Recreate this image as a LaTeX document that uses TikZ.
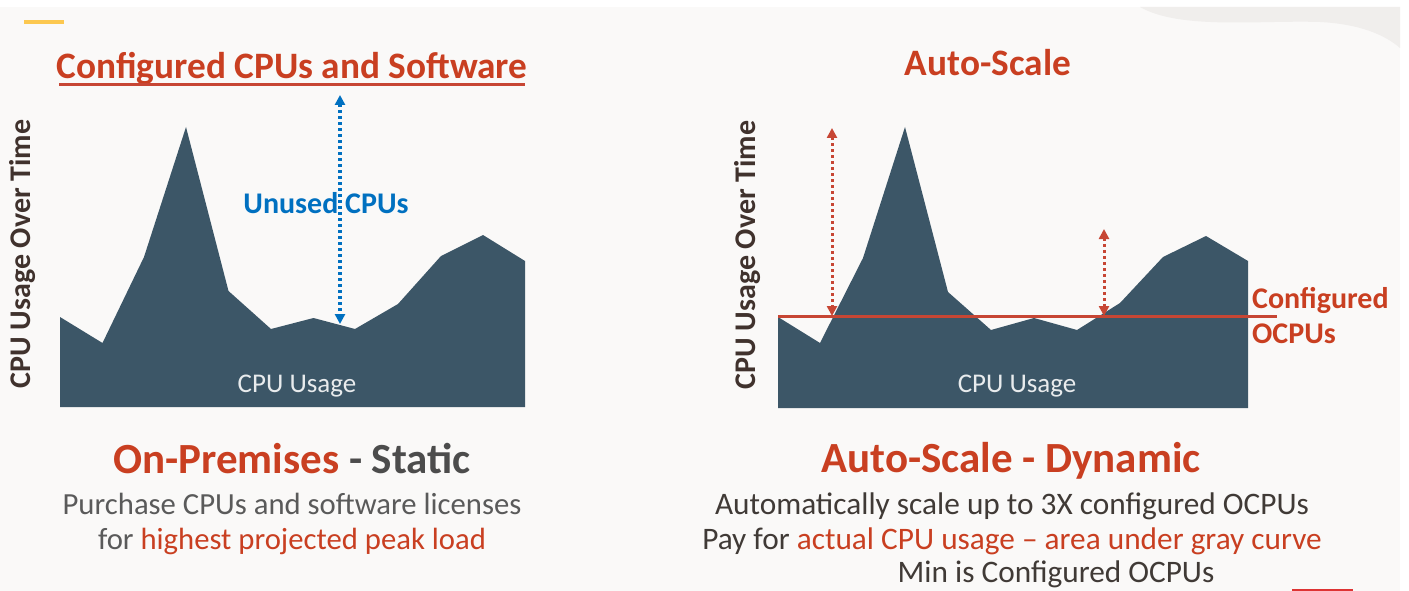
\documentclass[tikz,border=0pt]{standalone}
\usepackage{fontspec}
\setmainfont{Carlito}
\usetikzlibrary{arrows.meta}
\definecolor{bg}{HTML}{FAF9F8}
\definecolor{ored}{RGB}{201,63,33}
\definecolor{oline}{RGB}{199,70,52}
\definecolor{chart}{RGB}{60,86,103}
\definecolor{ublue}{RGB}{0,112,192}
\definecolor{txtgray}{RGB}{90,90,90}
\definecolor{txtdark}{RGB}{64,58,54}
\definecolor{axisbrown}{RGB}{64,50,45}
\definecolor{yel}{RGB}{252,200,80}
\definecolor{barred}{RGB}{222,52,52}
\definecolor{texture}{RGB}{240,238,236}
\tikzset{
  areafill/.style={fill=chart},
  bluearrow/.style={draw=ublue,line width=3.2pt,dash pattern=on 3pt off 3pt,
    {Triangle[length=10pt,width=10pt]}-{Triangle[length=10pt,width=10pt]}},
  redarrow/.style={draw=oline,line width=3pt,dash pattern=on 3pt off 3pt,
    {Triangle[length=10pt,width=10pt]}-{Triangle[length=10pt,width=10pt]}},
  axislabel/.style={font=\fontsize{30}{30}\selectfont\bfseries,text=axisbrown,rotate=90,inner sep=0pt},
  usagelabel/.style={font=\fontsize{27}{27}\selectfont,text=white!88!chart,anchor=base,inner sep=0pt},
  plain/.style={anchor=base,inner sep=0pt},
}
\begin{document}
\begin{tikzpicture}[x=1pt,y=-1pt]
\useasboundingbox (0,0) rectangle (1409,591);
% background
\fill[white] (0,0) rectangle (1409,591);
\fill[bg] (0,7) rectangle (1400,591);
\fill[texture] (1140,7) .. controls (1180,30) and (1260,20) .. (1320,22)
  .. controls (1360,24) and (1385,35) .. (1400,48) -- (1400,7) -- cycle;
% yellow accent
\draw[yel,line width=4pt] (24,22) -- (64,22);

% ---------- left panel ----------
\node[plain,font=\fontsize{37.3}{37.3}\selectfont\bfseries,text=ored] (ltitle) at (292,78.5) {Configured CPUs and Software};
\draw[oline,line width=3pt] (59,85) -- (525,85);

\fill[areafill] plot coordinates {(60,317) (102.5,343) (144,257) (186,127) (228.5,291) (271,329) (313.5,318) (355,329) (398,304) (441,256) (483,235) (525,261) (525,407) (60,407)} -- cycle;

\node[axislabel] (laxis) at (23,254) {CPU Usage Over Time};
\node[usagelabel] (lusage) at (297,392) {CPU Usage};

\coordinate (ua1) at (340,95);
\coordinate (ua2) at (340,324);
\draw[bluearrow] (ua1) -- (ua2);
\node[plain,font=\fontsize{30}{30}\selectfont\bfseries,text=ublue] (unused) at (326,213) {Unused CPUs};

\node[plain,font=\fontsize{43}{43}\selectfont\bfseries] (lhead) at (292,473) {\textcolor{ored}{On-Premises} \textcolor{txtgray!85!black}{- Static}};
\node[plain,font=\fontsize{30.7}{30.7}\selectfont,text=txtgray] (lline1) at (292,514) {Purchase CPUs and software licenses};
\node[plain,font=\fontsize{30.7}{30.7}\selectfont,text=txtgray] (lline2) at (292,549) {for \textcolor{ored}{highest projected peak load}};

% ---------- right panel ----------
\node[plain,font=\fontsize{37.3}{37.3}\selectfont\bfseries,text=ored] (rtitle) at (988,76) {Auto-Scale};

\fill[areafill] plot coordinates {(778,317) (820,343) (863,258) (905,127) (948,292) (991,330) (1034,318) (1077,330) (1120,303) (1163,257) (1206,236) (1248,261) (1248,408) (778,408)} -- cycle;

\node[axislabel] (raxis) at (748,255) {CPU Usage Over Time};
\node[usagelabel] (rusage) at (1017,392) {CPU Usage};

\coordinate (cl1) at (778,316);
\coordinate (cl2) at (1277,316);
\draw[oline,line width=3pt] (cl1) -- (cl2);

\coordinate (ra1) at (832,128);
\coordinate (ra2) at (832,316);
\draw[redarrow] (ra1) -- (ra2);
\coordinate (rb1) at (1104,229);
\coordinate (rb2) at (1104,316);
\draw[redarrow] (rb1) -- (rb2);

\node[anchor=base west,inner sep=0pt,font=\fontsize{30}{30}\selectfont\bfseries,text=ored] (conf1) at (1252,308) {Configured};
\node[anchor=base west,inner sep=0pt,font=\fontsize{30}{30}\selectfont\bfseries,text=ored] (conf2) at (1252,343) {OCPUs};

\node[plain,font=\fontsize{43}{43}\selectfont\bfseries,text=ored] (rhead) at (1011,472) {Auto-Scale - Dynamic};
\node[plain,font=\fontsize{31.3}{31.3}\selectfont,text=txtdark] (rline1) at (1012,514) {Automatically scale up to 3X configured OCPUs};
\node[plain,font=\fontsize{31.3}{31.3}\selectfont,text=txtdark] (rline2) at (1012,549) {Pay for \textcolor{ored}{actual CPU usage – area under gray curve}};
\node[plain,font=\fontsize{31.3}{31.3}\selectfont,text=txtdark] (rline3) at (1056,582) {Min is Configured OCPUs};

\draw[barred,line width=2.5pt] (1292,590) -- (1353,590);
\end{tikzpicture}
\end{document}
